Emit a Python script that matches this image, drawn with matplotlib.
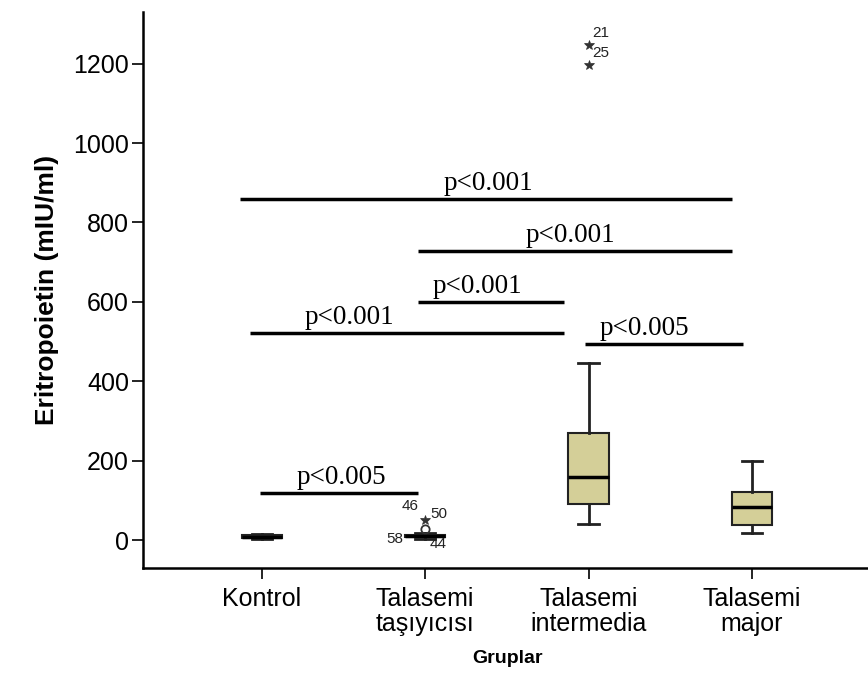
import matplotlib
matplotlib.use("Agg")
import matplotlib.pyplot as plt

# group labels
groups = ["Kontrol", "Talasemi\ntaşıyıcısı", "Talasemi\nintermedia", "Talasemi\nmajor"]

# box statistics (mIU/ml)
whis_lo = [3, 4, 42, 17]
q1 = [6, 7, 92, 39]
median = [9, 10, 159, 84]
q3 = [12, 13, 269, 121]
whis_hi = [16, 18, 447, 199]

# outliers: position, value, marker
out_pos = [2, 2, 3, 3]
out_value = [27, 50, 1247, 1197]
out_marker = ["o", "*", "*", "*"]

# significance brackets: x start, x end, height, text, text centre
sig_x0 = [0.865, 1.954, 1.954, 0.926, 2.98, 0.988]
sig_x1 = [3.88, 3.88, 2.852, 2.852, 3.948, 1.954]
sig_y = [859, 728, 600, 522, 495, 120]
sig_text = ["p<0.001", "p<0.001", "p<0.001", "p<0.001", "p<0.005", "p<0.005"]
sig_tx = [2.385, 2.89, 2.32, 1.535, 3.34, 1.486]

fig = plt.figure(figsize=(8.68, 6.89), dpi=100)
ax = fig.add_axes([0.1647, 0.1756, 0.84, 0.807])

stats = []
for i in range(len(groups)):
    stats.append(dict(med=median[i], q1=q1[i], q3=q3[i],
                      whislo=whis_lo[i], whishi=whis_hi[i], fliers=[]))

ax.bxp(stats, positions=[1, 2, 3, 4], widths=0.246, patch_artist=True,
       showfliers=False,
       boxprops=dict(facecolor="#d4cf98", edgecolor="#222222", linewidth=1.5),
       medianprops=dict(color="black", linewidth=2.5),
       whiskerprops=dict(color="#222222", linewidth=2),
       capprops=dict(color="#222222", linewidth=2),
       capwidths=0.123)

# outliers
for p, v, m in zip(out_pos, out_value, out_marker):
    if m == "o":
        ax.plot(p, v, marker="o", mfc="none", mec="#333333", ms=6, mew=1.3)
    else:
        ax.plot(p, v, marker="*", color="#333333", ms=7, mew=0.5)

lab_font = dict(fontsize=11, family="Liberation Sans", color="#222222")
ax.text(1.96, 85, "46", ha="right", va="center", **lab_font)
ax.text(2.03, 65, "50", ha="left", va="center", **lab_font)
ax.text(1.87, 3, "58", ha="right", va="center", **lab_font)
ax.text(2.03, -10, "44", ha="left", va="center", **lab_font)
ax.text(3.02, 1277, "21", ha="left", va="center", **lab_font)
ax.text(3.025, 1227, "25", ha="left", va="center", **lab_font)

# significance lines
for x0, x1, y, t, tx in zip(sig_x0, sig_x1, sig_y, sig_text, sig_tx):
    ax.plot([x0, x1], [y, y], color="black", linewidth=2.5, solid_capstyle="butt")
    ax.text(tx, y + 7, t, ha="center", va="bottom", fontsize=19.5,
            family="Liberation Serif")

ax.set_xlim(0.274, 4.735)
ax.set_ylim(-70, 1330)
ax.set_yticks([0, 200, 400, 600, 800, 1000, 1200])
ax.set_xticks([1, 2, 3, 4])
ax.set_xticklabels(groups, fontsize=18, family="Liberation Sans", linespacing=1.05)
for lbl in ax.get_yticklabels():
    lbl.set_fontsize(18)
    lbl.set_family("Liberation Sans")
ax.tick_params(axis="both", direction="out", length=8, width=1.2, colors="black")
ax.tick_params(axis="x", pad=6)
ax.tick_params(axis="y", pad=2)

for s in ["top", "right"]:
    ax.spines[s].set_visible(False)
for s in ["left", "bottom"]:
    ax.spines[s].set_linewidth(1.8)

ax.set_ylabel("Eritropoietin (mIU/ml)", fontsize=19, fontweight="bold",
              family="Liberation Sans", labelpad=10)
ax.set_xlabel("Gruplar", fontsize=14, fontweight="bold",
              family="Liberation Sans", labelpad=10)

fig.savefig("out.png", dpi=100, facecolor="white")
